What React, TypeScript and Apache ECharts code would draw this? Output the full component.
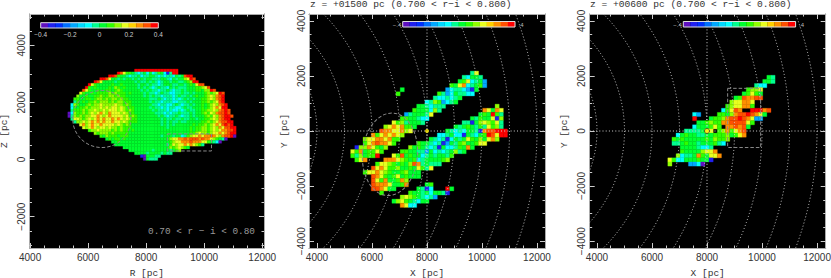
import React, { useEffect, useRef } from "react";
import * as echarts from "echarts";

// colour levels (letters used in the map rows) → r-i residual value
const levelValues: Record<string, number> = {
  P: -0.375, B: -0.325, D: -0.275, A: -0.175, C: -0.075, T: -0.025,
  G: 0.025, L: 0.075, K: 0.125, Y: 0.175, O: 0.275, E: 0.325, R: 0.375,
};
const palette = ["#6010c0","#2020f0","#0030ff","#0070ff","#00a8ff","#00d8ff","#00ffff","#00ff90","#00ff30","#30ff00","#90ff00","#e8ff20","#ffd000","#ff9000","#ff5000","#ff0000"];
const colorbarValues = [-0.375,-0.325,-0.275,-0.225,-0.175,-0.125,-0.075,-0.025,0.025,0.075,0.125,0.175,0.225,0.275,0.325,0.375];

// R-Z map: [first column, cells], one row per Z bin from the top down
const rzRows: [number, string][] = [
  [24,"RRRRRRRRRRRRRRR"],
  [18,"REYLLGTCTGCGCTLGCBTRR"],
  [15,"RRELGGTCTTGCTTGGTCTCTTCGTGERR"],
  [12,"RREYGGTGTGGTGTGTGGTTTGGTCGTGGKYRE"],
  [10,"REYGGGGTGGGGGGTGTTGTGTCTGGTGGTTGLKRR"],
  [8,"RYLGGGGGLGGLGGGGGTGGTGTTCTGGGTTGGTGLGYEE"],
  [7,"RLGLGGGGLGKLGLGGGGTGTGTCTGTTCGTGTTTGGGLLKYE"],
  [6,"EYLGGLGGLLGLKLGGGGGGTGTGTTCTTGTCTTGTGGGLLGKKRE"],
  [5,"YLGGLGLLLLKLKLLLGLGGGGTGTTCTGTTCCTTGTTGTGGGLKLKYRE"],
  [4,"KGGLGGLLKLLKKLKLLGGGGGGTGTGTTCTTTCTGTTGTGLGGLKYKOER"],
  [3,"LLGGLLGLKKLKLKKLKLLGGGGGGGTTTGTCTTCTCTGTGTGGLLKYKOER"],
  [3,"TLGLGLLKLKKKLKLKKLLLGGGGGGTGTTCTTTCCTTTGTGGGLLKLKYER"],
  [2,"CKLGGLKLKKYKKKKYKKLKLGGGGGGGTTCTTCCTGTCTTGTGGLGLKYKOER"],
  [2,"CLGLLKLKKKYKYKYYKYKLLLGGGGGTGTTCTCTTCCTGTTGGGLGLKYOYRR"],
  [2,"TLLLKLKKYKKYKYYYKYKLKLGGGGGGTGTTTCTCCTCTGTTGGLLKKYKOERE"],
  [1,"PCKLLKLKYKYOYKOYYYKYKLLGGGGGGGTTTCTCTTGTTTGTGGLKLYKOEERE"],
  [1,"PTKLKLKKYYOYKYOYYYYKYLKLGGGGGGGTGTCTTGTCTTGTGGGLKLYKOERRE"],
  [2,"TYYKLKYKYOYOYYOYOYKYKLLGGGGGGGGTGTTGTTGTTGGTGGLLKYKOERR"],
  [3,"TKKYKYOYOYOYYOYYKYKLLLGGGGGGGGTGTGTTGTTGGGGGLLKLKYOEERR"],
  [5,"YOKYOYYOYYYYKYKLKLGGGGGGGGGGTGTGTGGGGGGLGLLKLKYOYERER"],
  [6,"YKYOYKYYKYKKLKLLLGGGGGGGGGGGGTGGGGGGGLGLLKKLKYKOYEERR"],
  [8,"LKKYKKKKLKLKLLGLGGGGGGGGGGGGGGGGGGGLGLLKKLKYKYOOEER"],
  [10,"KLKKKLKLLLLLGGGGGGGGGGGGGGGGGGGGGLLKYKKLKYYOYOERR"],
  [12,"LGKLLLGLLLGGGGGGGGGGGTGGGTGGCTLKYYOYOOEOYKOEERP"],
  [14,"GLGLLGLGGGGGGGGGGGGGGGKYYOOEOEEEOEOOYKLGTP"],
  [16,"GGLGGGGGGGGGGGGGGGGGLKYYOOOEOOOYYLGTCP"],
  [17,"GGGGGGGGGGGGGGGGGGTLYKYYOYOYKLT"],
  [20,"GGGGGGGGGGGGGGGGKLKYKLG"],
  [22,"GGGGGGGGTGGGGGTGLK"],
  [24,"GGGGTGGGGTGTT"],
  [26,"BPGGGTT"],
  [27,"PGTTT"],
];

// X-Y map at z=+1500: [Y bin, first X bin, cells]
const xy1500Upper: [number, number, string][] = [
  [14,11,"TY"],[13,9,"TCGGT"],[12,8,"GLYCTGA"],[11,6,"LGYOCTGLA"],[10,5,"ACTTCABG"],
  [9,3,"LTACGTTCC"],[8,2,"TCCTCTG"],[7,0,"CTKLACTG"],[6,-2,"GGTCTTT"],[5,-3,"LGGGCKT"],
  [4,-5,"ATGGGTY"],[3,-6,"LLGGTCC"],[2,-8,"YLKTGGGT"],[1,-10,"KYOYOLLG"],[0,-11,"EOOYYOKY"],
  [-1,-13,"OLYOYOYK"],[-2,-15,"KYYOOYOLL"],[-3,-15,"LYOEOOYL"],[-4,-17,"BKKOYLGK"],
  [-5,-18,"YLOGLLYL"],[-6,-18,"LTKGLLR"],[-7,-17,"LYO"],
];
const xy1500Lower: [number, number, string][] = [
  [6,17,"K"],[5,14,"OYGOY"],[4,13,"GLGRLT"],[3,11,"GTLGGYBK"],[2,9,"TTBGKYKLYT"],
  [1,7,"GTGLGTLTYLKT"],[0,5,"GTCTCGGTBOEERRR"],[-1,3,"CCTGCCBGTCGLREYRR"],[-2,1,"GTCTBCGTGYLGKGYOK"],
  [-3,-2,"LGGTCTBAGTLKGGLYY"],[-4,-4,"KGLGTCTBGCCTLGOG"],[-5,-6,"LLGGTTAGCTCTGKTG"],
  [-6,-8,"YLEGLGGCTGTGGTL"],[-7,-10,"OOOYKLGLCTGGGGLK"],[-8,-12,"LYYKLGLGKEOTGTTT"],
  [-9,-13,"EYOYLLKGGLGYLTY"],[-10,-15,"LYYOYKLGGLKGGG"],[-11,-13,"EOYLGLYGLGGG"],
  [-12,-13,"EYLOGGLOK"],[-13,-13,"EOOOYGGLO"],[-14,-13,"EEOYGG"],[-15,-11,"L"],
];
const xy1500South: [number, number, string][] = [
  [-13,0,"GL"],[-14,-2,"GTBC"],[-14,5,"RG"],[-15,-4,"LGGTGCGGTB"],
  [-16,-6,"KYKLGTCTA"],[-17,-8,"GKYLGTCGG"],[-18,-6,"OYCC"],
];
const xy1500Stray: [number, number, string][] = [[10,-6,"G"],[9,-7,"L"]];

// X-Y map at z=+600
const xy600Rows: [number, number, string][] = [
  [13,15,"GT"],[12,14,"GGT"],[11,12,"TCC"],[10,10,"LKKY"],[9,9,"GLYLG"],
  [8,7,"GLEOOEE"],[7,6,"KYYOOY"],[6,5,"LKYYOOL"],[5,4,"CLYEO"],[5,11,"RRROE"],
  [4,-3,"CA"],[4,3,"LLGKOEEREOYG"],[3,-3,"R"],[3,1,"GLLKOEEREOYAA"],
  [2,-2,"GGLKLLOOEEEEYL"],[1,-3,"CGGGLYL.OOEOEG"],
  [0,-5,"TTTTGYY.LKOLYOE"],[-1,-7,"CGLGGTTGGLLLKGLYO"],
  [-2,-8,"LGLGGGGGLGKLLK"],[-3,-8,"TTGLGGTGGGLTC"],[-4,-6,"GGGGTCCT"],
  [-5,-6,"LGGGGKYYO"],[-6,-7,"KCTTGOLGYYO"],[-7,-9,"YLCCGGGLGGB"],[-8,-9,"K"],[-8,-4,"AACP"],
];

// tick labels and tick positions
const rTicks = [4000, 6000, 8000, 10000, 12000];
const zTicks = [-2000, 0, 2000, 4000];
const xyTicks = [-4000, -2000, 0, 2000, 4000];
const rMinor = [4500,5000,5500,6500,7000,7500,8500,9000,9500,10500,11000,11500];
const zMinor = [-3000,-2500,-1500,-1000,-500,500,1000,1500,2500,3000,3500,4500,5000];
const yMinor = [-3500,-3000,-2500,-1500,-1000,-500,500,1000,1500,2500,3000,3500];
const xyMinor = [...rMinor];
const ringRadii = [4000,5000,6000,7000,8000,9000,10000,11000,12000];
const colorbarTicks = [-0.4,-0.2,0,0.2,0.4];

const SUN = [8000, 0];
const RZ_CELL = 100, XY_CELL = 150;
const MONO = "'Liberation Mono', monospace";
const SANS = "'Liberation Sans', sans-serif";

const minus = (v: any) => String(v).replace("-", "\u2212");

function rzData() {
  const out: number[][] = [];
  rzRows.forEach(([start, cells], r) => {
    [...cells].forEach((ch, k) => {
      if (levelValues[ch] !== undefined) out.push([5250 + RZ_CELL * (start + k), 3120 - RZ_CELL * r, levelValues[ch]]);
    });
  });
  return out;
}
function xyData(rows: [number, number, string][]) {
  const out: number[][] = [];
  rows.forEach(([j, i, cells]) => {
    [...cells].forEach((ch, k) => {
      if (levelValues[ch] !== undefined) out.push([8000 + XY_CELL * (i + k), XY_CELL * j, levelValues[ch]]);
    });
  });
  return out;
}
const colorOf = (v: number) => palette[Math.max(0, Math.min(15, Math.floor((v + 0.4) / 0.05)))];

const cellRender = (w: number, h: number) => (_: any, api: any) => {
  const x = api.value(0), y = api.value(1), v = api.value(2);
  const a = api.coord([x - w / 2, y + h / 2]);
  const b = api.coord([x + w / 2, y - h / 2]);
  const c = colorOf(v);
  return { type: "rect", shape: { x: a[0], y: a[1], width: b[0] - a[0], height: b[1] - a[1] }, style: { fill: c, stroke: c, lineWidth: 0.3 } };
};

const axisPair = (dim: "x" | "y", grid: number, min: number, max: number, majors: number[], minors: number[], name: string, labelMargin: number, nameGap: number) => {
  const pos = dim === "x" ? ["bottom", "top"] : ["left", "right"];
  const line = { show: true, onZero: false, lineStyle: { color: "#aaa", width: 1 } };
  const base = { type: "value", gridIndex: grid, min, max, splitLine: { show: false }, axisLine: line, silent: true };
  const mk = (p: string, vals: number[], len: number, labels: boolean) => ({
    ...base,
    position: p,
    axisTick: { show: true, inside: true, length: len, customValues: vals, lineStyle: { color: "#ccc", width: 1 } },
    axisLabel: labels
      ? { show: true, customValues: majors, formatter: minus, color: "#333", fontSize: 10, fontFamily: SANS, margin: labelMargin, rotate: dim === "y" ? 90 : 0, hideOverlap: false }
      : { show: false },
    ...(labels ? { name, nameLocation: "middle", nameGap, nameRotate: dim === "y" ? 90 : 0, nameTextStyle: { color: "#333", fontSize: 9.5, fontFamily: MONO } } : {}),
  });
  return [mk(pos[0], majors, 5, true), mk(pos[0], minors, 2.5, false), mk(pos[1], majors, 5, false), mk(pos[1], minors, 2.5, false)];
};

function buildOption() {
  const mainGrid = { top: 14, height: 234, show: true, backgroundColor: "#000", borderWidth: 0, outerBoundsMode: "none" };
  const grids = [
    { ...mainGrid, left: 29.5, width: 234.5 },
    { ...mainGrid, left: 309, width: 236 },
    { ...mainGrid, left: 589.7, width: 236 },
    { left: 40.7, top: 22.7, width: 117.6, height: 5.3, outerBoundsMode: "none" },
    { left: 402.7, top: 21.5, width: 112.3, height: 5.5, outerBoundsMode: "none" },
    { left: 683.3, top: 21.5, width: 112.3, height: 5.5, outerBoundsMode: "none" },
  ];
  const xAxis: any[] = [
    ...axisPair("x", 0, 3980, 12060, rTicks, rMinor, "R [pc]", 4, 20),
    ...axisPair("x", 1, 3710, 12290, rTicks, xyMinor, "X [pc]", 4, 20),
    ...axisPair("x", 2, 3735, 12315, rTicks, xyMinor, "X [pc]", 4, 20),
  ];
  const yAxis: any[] = [
    ...axisPair("y", 0, -3100, 5100, zTicks, zMinor, "Z [pc]", 3, 20),
    ...axisPair("y", 1, -4250, 4250, xyTicks, yMinor, "Y [pc]", 3, 20),
    ...axisPair("y", 2, -4250, 4250, xyTicks, yMinor, "Y [pc]", 3, 20),
  ];
  [3, 4, 5].forEach((g, idx) => {
    xAxis.push({
      type: "value", gridIndex: g, min: -0.4, max: 0.4, interval: 0.2, position: "bottom",
      splitLine: { show: false }, axisLine: { show: false }, axisTick: { show: false },
      axisLabel: idx === 0
        ? { show: true, margin: 3, color: "#ccc", fontSize: 6.5, fontFamily: SANS, formatter: minus, customValues: colorbarTicks }
        : { show: false },
    });
    yAxis.push({ type: "value", gridIndex: g, min: 0, max: 1, axisLine: { show: false }, axisTick: { show: false }, axisLabel: { show: false }, splitLine: { show: false } });
  });

  const cells = (p: number, w: number, data: number[][]) => ({
    type: "custom", xAxisIndex: p * 4, yAxisIndex: p * 4, clip: true, silent: true, z: 2,
    renderItem: cellRender(w, w), data, encode: { x: 0, y: 1 },
  });
  const overlay = (p: number, render: any, data: any[] = [[0, 0]]) => ({
    type: "custom", xAxisIndex: p * 4, yAxisIndex: p * 4, clip: true, silent: true, z: 3,
    renderItem: render, data, encode: { x: 0, y: 1 },
  });
  const dotted = { stroke: "#cfcfcf", fill: "none", lineWidth: 1, lineDash: [1, 2.2] };
  const dashed = { stroke: "#8a8a8a", fill: "none", lineWidth: 1, lineDash: [3.5, 2] };

  const rings = (p: number) => overlay(p, (_: any, api: any) => {
    const r = api.value(0);
    const c = api.coord([0, 0]);
    const rx = api.size([r, 0])[0];
    return { type: "circle", shape: { cx: c[0], cy: c[1], r: rx }, style: dotted };
  }, ringRadii.map((r) => [r, 0]));
  const crossHair = (p: number, xmin: number, xmax: number) => overlay(p, (_: any, api: any) => {
    const a = api.coord([xmin, 0]), b = api.coord([xmax, 0]);
    const c = api.coord([8000, -4250]), d = api.coord([8000, 4250]);
    return { type: "group", children: [
      { type: "line", shape: { x1: a[0], y1: a[1], x2: b[0], y2: b[1] }, style: dotted },
      { type: "line", shape: { x1: c[0], y1: c[1], x2: d[0], y2: d[1] }, style: dotted },
    ] };
  });
  const sun = (p: number, border: boolean) => ({
    type: "scatter", xAxisIndex: p * 4, yAxisIndex: p * 4, silent: true, z: 4, symbol: "circle", symbolSize: border ? 5 : 4,
    itemStyle: { color: "#ffee00", borderColor: border ? "#333" : "#ffee00", borderWidth: border ? 1 : 0 }, data: [SUN],
  });
  const dashRect = (p: number, x0: number, x1: number, y0: number, y1: number) => overlay(p, (_: any, api: any) => {
    const a = api.coord([x0, y1]), b = api.coord([x1, y0]);
    return { type: "rect", shape: { x: a[0], y: a[1], width: b[0] - a[0], height: b[1] - a[1] }, style: dashed };
  });
  const dashEllipse = (p: number, cx: number, cy: number, rx: number, ry: number, rot: number) => overlay(p, (_: any, api: any) => {
    const c = api.coord([cx, cy]);
    const s = api.size([rx, ry]);
    return { type: "ellipse", x: c[0], y: c[1], rotation: rot, shape: { cx: 0, cy: 0, rx: s[0], ry: s[1] }, style: dashed };
  });

  const colorbar = (g: number) => {
    const ax = 12 + (g - 3);
    return [
      {
        type: "custom", xAxisIndex: ax, yAxisIndex: ax, silent: true, z: 6,
        data: colorbarValues.map((v) => [v, 0.5]), encode: { x: 0, y: 1 },
        renderItem: (_: any, api: any) => {
          const v = api.value(0);
          const a = api.coord([v - 0.025, 1]), b = api.coord([v + 0.025, 0]);
          const c = colorOf(v);
          return { type: "rect", shape: { x: a[0], y: a[1], width: b[0] - a[0], height: b[1] - a[1] }, style: { fill: c, stroke: c, lineWidth: 0.2 } };
        },
      },
      {
        type: "custom", xAxisIndex: ax, yAxisIndex: ax, silent: true, z: 7, data: [[0, 0.5]], encode: { x: 0, y: 1 },
        renderItem: (_: any, api: any) => {
          const a = api.coord([-0.4, 1]), b = api.coord([0.4, 0]);
          return { type: "rect", shape: { x: a[0], y: a[1], width: b[0] - a[0], height: b[1] - a[1] }, style: { fill: "none", stroke: "#ddd", lineWidth: 1 } };
        },
      },
    ];
  };

  const series: any[] = [
    cells(0, RZ_CELL, rzData()),
    dashEllipse(0, 6470, 1420, 1000, 1000, 0),
    dashRect(0, 8730, 10250, 300, 900),
    cells(1, XY_CELL, xyData(xy1500Upper)),
    cells(1, XY_CELL, xyData(xy1500Lower)),
    cells(1, XY_CELL, xyData(xy1500South)),
    cells(1, XY_CELL, xyData(xy1500Stray)),
    rings(1), crossHair(1, 3710, 12290),
    dashEllipse(1, 6655, -847, 1000, 1500, -0.08),
    sun(1, false),
    cells(2, XY_CELL, xyData(xy600Rows)),
    rings(2), crossHair(2, 3735, 12315),
    dashRect(2, 8750, 9950, -600, 1550),
    sun(2, true),
    ...colorbar(3), ...colorbar(4), ...colorbar(5),
  ];

  const titleText = (x: number, s: string) => ({
    type: "text", x, y: 4, style: { text: s, fill: "#333", font: `9.6px ${MONO}`, textVerticalAlign: "middle" }, silent: true,
  });
  const small = (x: number, s: string) => ({
    type: "text", x, y: 24.5, z: 10, style: { text: s, fill: "#bbb", font: `6px ${SANS}`, textVerticalAlign: "middle", textAlign: "center" }, silent: true,
  });
  const graphic = [
    titleText(310, "z = +01500 pc (0.700 < r\u2212i < 0.800)"),
    titleText(590, "z = +00600 pc (0.700 < r\u2212i < 0.800)"),
    small(397, "\u2212.4"), small(521, ".4"),
    small(677.5, "\u2212.4"), small(801.5, ".4"),
    { type: "text", x: 148, y: 231, z: 10, style: { text: "0.70 < r \u2212 i < 0.80", fill: "#999", font: `9.4px ${MONO}`, textVerticalAlign: "middle" }, silent: true },
  ];

  return { animation: false, backgroundColor: "#fff", grid: grids, xAxis, yAxis, series, graphic };
}

export default function App() {
  const ref = useRef<HTMLDivElement>(null);
  useEffect(() => {
    document.body.style.margin = "0";
    const chart = echarts.init(ref.current!, undefined, { renderer: "svg" });
    chart.setOption(buildOption() as any);
    return () => chart.dispose();
  }, []);
  return <div ref={ref} style={{ width: 831, height: 278 }} />;
}
